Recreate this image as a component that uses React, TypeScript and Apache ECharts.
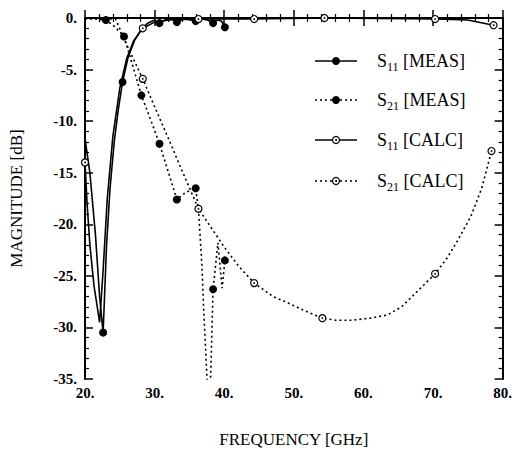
import React, { useEffect, useRef } from "react";
import * as echarts from "echarts";

// [frequency GHz, magnitude dB, marker(1) / no marker(0)]
const s11Meas: number[][] = [
  [20, -11.7, 0], [20.7, -15, 0], [21.5, -21, 0], [22.1, -27, 0], [22.6, -30.5, 1],
  [23.1, -22, 0], [23.6, -16.5, 0], [24.2, -12, 0], [24.8, -8.8, 0], [25.4, -6.2, 1],
  [26.2, -3.8, 0], [27.1, -2.2, 0], [28.0, -1.2, 0], [29.0, -0.5, 0], [30.0, -0.2, 0],
  [30.7, -0.5, 1], [31.5, -0.2, 0], [32.5, -0.1, 0], [33.2, -0.4, 1], [34.2, -0.1, 0],
  [35.2, -0.2, 0], [35.9, -0.3, 1], [36.8, -0.1, 0], [37.6, -0.2, 0], [38.4, -0.5, 1],
  [39.0, -0.2, 0], [39.6, -0.3, 0], [40.1, -0.9, 1],
];

const s21Meas: number[][] = [
  [20, -0.1, 0], [21.5, -0.1, 0], [23.0, -0.2, 1], [24.2, -0.8, 0], [25.6, -1.8, 1],
  [26.8, -4.5, 0], [28.1, -7.5, 1], [29.4, -9.8, 0], [30.7, -12.2, 1], [32.0, -15.0, 0],
  [33.2, -17.6, 1], [34.5, -16.9, 0], [35.9, -16.5, 1], [36.3, -18.5, 0], [36.8, -24.0, 0],
  [37.0, -27.5, 0], [37.6, -36, 0], [38.0, -36, 0], [38.4, -26.3, 1], [39.1, -21.8, 0],
  [39.7, -26.2, 0], [40.1, -23.5, 1],
];

const s11Calc: number[][] = [
  [20, -14, 1], [20.3, -18, 0], [20.7, -22, 0], [21.3, -26, 0], [22.1, -29.5, 0],
  [22.6, -24.5, 0], [23.2, -17.5, 0], [24.0, -11.5, 0], [25.0, -6.8, 0], [26.0, -3.9, 0],
  [27.0, -2.2, 0], [28.3, -1.0, 1], [30.0, -0.4, 0], [32.0, -0.2, 0], [36.3, -0.1, 1],
  [44.3, -0.1, 1], [54.4, 0, 1], [62.0, -0.05, 0], [70.3, -0.1, 1], [75.0, -0.2, 0],
  [78.7, -0.7, 1],
];

const s21Calc: number[][] = [
  [20, 0, 0], [24.4, -0.1, 0], [26.0, -2.6, 0], [28.3, -5.9, 1], [30.0, -8.6, 0],
  [32.0, -11.7, 0], [34.0, -14.9, 0], [36.3, -18.5, 1], [38.0, -20.2, 0], [40.0, -22.2, 0],
  [42.0, -24.0, 0], [44.3, -25.7, 1], [47.0, -27.0, 0], [49.1, -27.6, 0], [51.6, -28.4, 0],
  [54.1, -29.1, 1], [56.0, -29.3, 0], [58.3, -29.3, 0], [61.0, -29.1, 0], [63.4, -28.8, 0],
  [65.5, -28.0, 0], [67.3, -26.8, 0], [70.3, -24.8, 1], [72.0, -23.3, 0], [73.5, -21.6, 0],
  [75.4, -19.3, 0], [77.0, -16.5, 0], [78.4, -12.9, 1],
];

const xTicks = { min: 20, max: 80, interval: 10 };
const yTicks = { min: -35, max: 0, interval: 5 };

const legendLabels = [
  { sub: "11", tag: "[MEAS]", dotted: false, open: false },
  { sub: "21", tag: "[MEAS]", dotted: true, open: false },
  { sub: "11", tag: "[CALC]", dotted: false, open: true },
  { sub: "21", tag: "[CALC]", dotted: true, open: true },
];

const FONT = "'Liberation Serif', 'DejaVu Serif', serif";

function lineData(arr: number[][], open: boolean) {
  return arr.map((p) => ({
    value: [p[0], p[1]],
    symbol: p[2] ? "circle" : "none",
    symbolSize: open ? 7 : 8,
    itemStyle: open
      ? { color: "#fff", borderColor: "#000", borderWidth: 1.2 }
      : { color: "#000" },
  }));
}

function dotData(arr: number[][]) {
  return arr.filter((p) => p[2]).map((p) => [p[0], p[1]]);
}

export default function App() {
  const ref = useRef<HTMLDivElement>(null);
  useEffect(() => {
    if (!ref.current) return;
    const chart = echarts.init(ref.current, undefined, { renderer: "svg" });
    const axisCommon = {
      axisLine: { show: true, lineStyle: { color: "#000", width: 2 } },
      axisTick: { show: true, inside: true, length: 8, lineStyle: { color: "#000", width: 1.5 } },
      minorTick: { show: true, splitNumber: 5, length: 4, lineStyle: { color: "#000", width: 1.2 } },
      splitLine: { show: false },
      minorSplitLine: { show: false },
    };
    const labelStyle = {
      color: "#000",
      fontFamily: FONT,
      fontSize: 15,
      fontWeight: "bold" as const,
      formatter: (v: number) => `${v}.`,
    };
    const solid = { color: "#000", width: 1.6, type: "solid" as const };
    const dotted = { color: "#000", width: 1.6, type: [2, 3] as any };

    const graphic: any[] = [];
    const rowsY = [61, 100, 140, 181];
    legendLabels.forEach((l, i) => {
      const y = rowsY[i];
      graphic.push({
        type: "line",
        shape: { x1: 315, y1: y, x2: 357, y2: y },
        style: { stroke: "#000", lineWidth: 1.6, lineDash: l.dotted ? [2, 3] : null },
      });
      graphic.push({
        type: "circle",
        shape: { cx: 336, cy: y, r: l.open ? 3.5 : 4 },
        style: l.open
          ? { fill: "#fff", stroke: "#000", lineWidth: 1.2 }
          : { fill: "#000" },
      });
      if (l.open) {
        graphic.push({ type: "circle", shape: { cx: 336, cy: y, r: 1 }, style: { fill: "#000" } });
      }
      graphic.push({
        type: "text",
        x: 377,
        y: y,
        style: {
          text: `{m|S}{s|${l.sub}}{m| ${l.tag}}`,
          verticalAlign: "middle",
          rich: {
            m: { fontFamily: FONT, fontSize: 18, fill: "#000", lineHeight: 24 },
            s: { fontFamily: FONT, fontSize: 12, fill: "#000", lineHeight: 24, verticalAlign: "bottom" },
          },
        },
      });
    });

    chart.setOption({
      animation: false,
      grid: { left: 84, right: 11, top: 18, bottom: 71, containLabel: false },
      xAxis: [
        {
          type: "value",
          ...xTicks,
          position: "bottom",
          ...axisCommon,
          axisLabel: { ...labelStyle, margin: 6 },
          name: "FREQUENCY [GHz]",
          nameLocation: "middle",
          nameGap: 52,
          nameTextStyle: { color: "#000", fontFamily: FONT, fontSize: 17 },
        },
        {
          type: "value",
          ...xTicks,
          position: "top",
          ...axisCommon,
          axisLabel: { show: false },
        },
      ],
      yAxis: [
        {
          type: "value",
          ...yTicks,
          position: "left",
          ...axisCommon,
          axisLabel: { ...labelStyle, margin: 8 },
          name: "MAGNITUDE [dB]",
          nameLocation: "middle",
          nameGap: 60,
          nameTextStyle: { color: "#000", fontFamily: FONT, fontSize: 17 },
        },
        {
          type: "value",
          ...yTicks,
          position: "right",
          ...axisCommon,
          axisLabel: { show: false },
        },
      ],
      graphic,
      series: [
        { type: "line", name: "S11 [MEAS]", data: lineData(s11Meas, false), lineStyle: solid, itemStyle: { color: "#000" }, z: 3 },
        { type: "line", name: "S21 [MEAS]", data: lineData(s21Meas, false), lineStyle: dotted, itemStyle: { color: "#000" }, z: 3 },
        { type: "line", name: "S11 [CALC]", data: lineData(s11Calc, true), lineStyle: solid, itemStyle: { color: "#000" }, z: 4 },
        { type: "line", name: "S21 [CALC]", data: lineData(s21Calc, true), lineStyle: dotted, itemStyle: { color: "#000" }, z: 4 },
        { type: "scatter", data: dotData(s11Calc), symbol: "circle", symbolSize: 2, itemStyle: { color: "#000" }, z: 5, silent: true },
        { type: "scatter", data: dotData(s21Calc), symbol: "circle", symbolSize: 2, itemStyle: { color: "#000" }, z: 5, silent: true },
      ],
    });
    return () => chart.dispose();
  }, []);
  return <div ref={ref} style={{ width: 515, height: 453, position: "absolute", left: 0, top: 0 }} />;
}
